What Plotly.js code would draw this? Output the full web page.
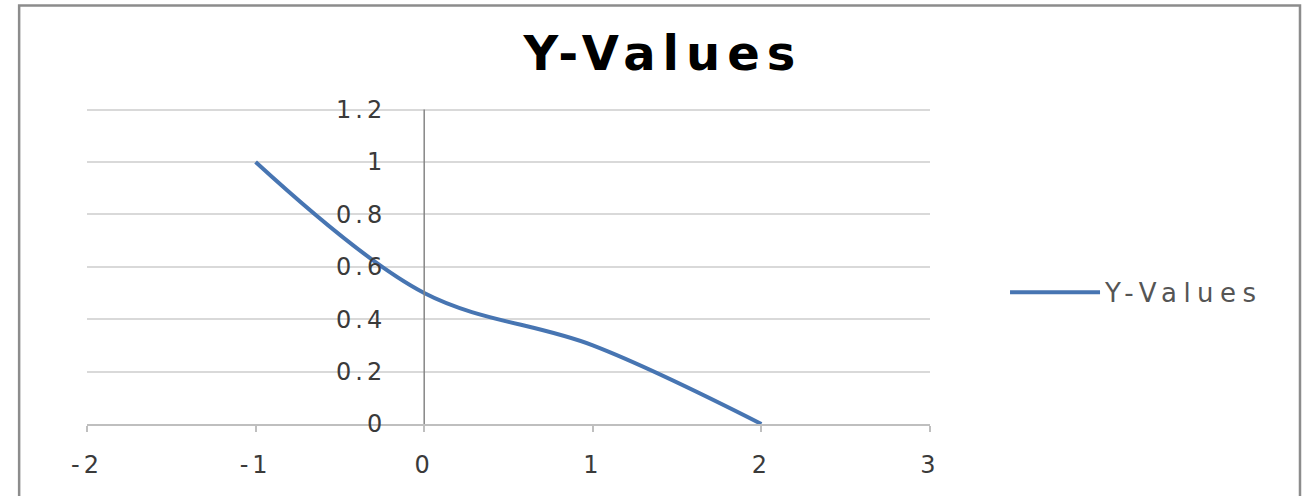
<!DOCTYPE html>
<html>
<head>
<meta charset="utf-8">
<script src="https://cdn.plot.ly/plotly-3.0.1.min.js"></script>
<style>
html,body{margin:0;padding:0;background:#fff;}
#chart{width:1305px;height:496px;}
.gtitle{letter-spacing:7px;}
.xtick text,.ytick text{letter-spacing:4px;}
.legendtext{letter-spacing:6.5px;}
</style>
</head>
<body>
<div id="chart"></div>
<script>
var seriesName = "Y-Values";
var xValues = [-1, 0, 1, 2];
var yValues = [1, 0.5, 0.3, 0];
var xTicks = [-2, -1, 0, 1, 2, 3];
var yTicks = [0, 0.2, 0.4, 0.6, 0.8, 1, 1.2];

var tickFont = {family: "DejaVu Sans", size: 24, color: "#3A3A3A"};

var trace = {
  x: xValues,
  y: yValues,
  type: "scatter",
  mode: "lines",
  name: seriesName,
  line: {color: "#4775B2", width: 4, shape: "spline", smoothing: 1},
  hoverinfo: "x+y"
};

var layout = {
  width: 1305,
  height: 496,
  margin: {l: 87, r: 375, t: 107, b: 72},
  paper_bgcolor: "#ffffff",
  plot_bgcolor: "#ffffff",
  title: {
    text: "Y-Values",
    font: {family: "DejaVu Sans", size: 48, color: "#000000", weight: "bold"},
    xref: "container", x: 0.508, xanchor: "center",
    yref: "container", y: 0.892, yanchor: "middle"
  },
  xaxis: {
    range: [-2, 3],
    tickvals: xTicks,
    ticktext: xTicks.map(String),
    showgrid: false,
    zeroline: false,
    showline: true,
    linecolor: "#BFBFBF",
    linewidth: 2,
    ticks: "outside",
    ticklen: 6,
    tickwidth: 2,
    tickcolor: "#BFBFBF",
    tickfont: tickFont,
    ticklabelstandoff: 12,
    fixedrange: true
  },
  yaxis: {
    range: [0, 1.21],
    tickvals: yTicks,
    ticktext: yTicks.map(String),
    anchor: "free",
    position: 0.4,
    showgrid: true,
    gridcolor: "#D9D9D9",
    gridwidth: 1.5,
    zeroline: false,
    showline: false,
    ticks: "",
    tickfont: tickFont,
    ticklabelstandoff: 38,
    fixedrange: true
  },
  showlegend: true,
  legend: {
    x: 1.089, xanchor: "left",
    y: 0.415, yanchor: "middle",
    itemwidth: 90,
    font: {family: "DejaVu Sans", size: 26, color: "#555555"},
    bgcolor: "rgba(0,0,0,0)"
  },
  shapes: [{
    type: "rect",
    xref: "paper", yref: "paper",
    x0: -0.0805, x1: 1.4389,
    y0: -0.24, y1: 1.32,
    line: {color: "#8C8C8C", width: 2.5},
    fillcolor: "rgba(0,0,0,0)",
    layer: "below"
  }, {
    type: "line",
    xref: "x", yref: "y",
    x0: 0, x1: 0, y0: 0, y1: 1.2,
    line: {color: "#868686", width: 1.5},
    layer: "above"
  }]
};

Plotly.newPlot("chart", [trace], layout, {displayModeBar: false});
</script>
</body>
</html>
